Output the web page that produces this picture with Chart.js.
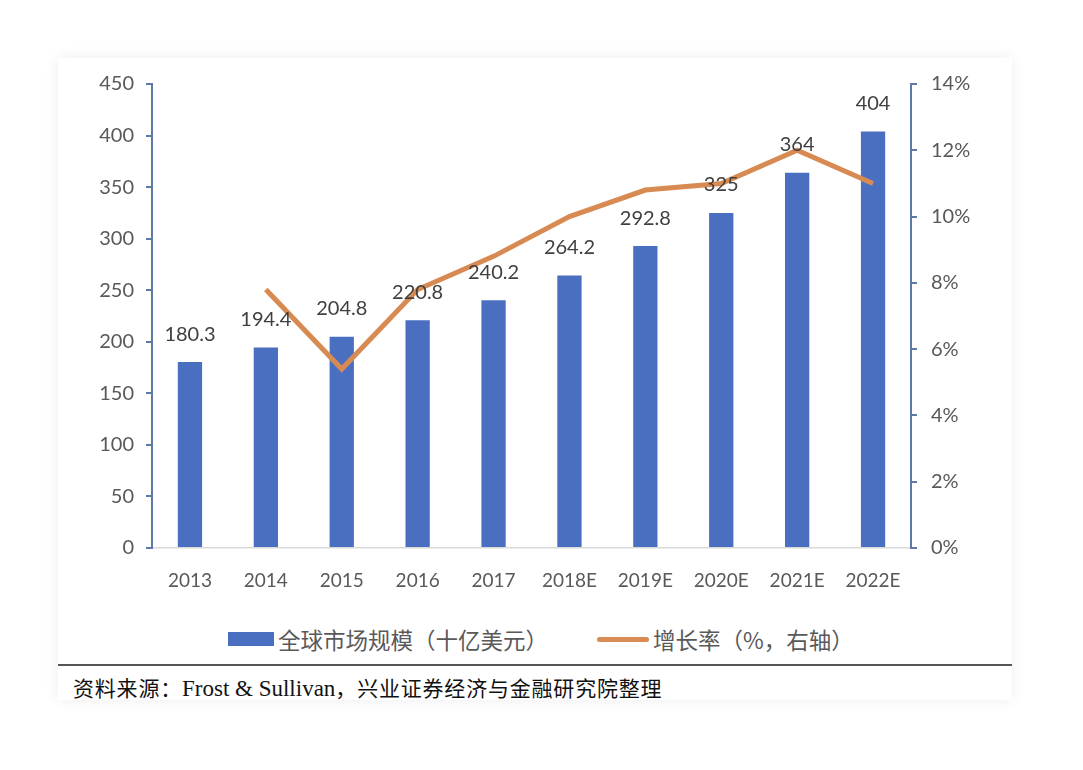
<!DOCTYPE html>
<html>
<head>
<meta charset="utf-8">
<script src="https://cdn.jsdelivr.net/npm/chart.js@4/dist/chart.umd.min.js"></script>
<style>
  body { margin: 0; background: #fff; width: 1083px; height: 770px; overflow: hidden; }
  #card { position: absolute; left: 58px; top: 58px; width: 954px; height: 642px; background: #fff;
          box-shadow: 0 0 14px rgba(0,0,0,0.07); }
  #wrap { position: absolute; left: 0; top: 0; width: 954px; height: 562px; }
  .leg { position: absolute; top: 565px; font-family: "Noto Sans CJK SC", sans-serif; font-size: 22.5px;
         color: #595959; display: flex; align-items: center; white-space: nowrap; }
  .box { width: 46px; height: 14px; background: #4a6fc1; margin-right: 4px; }
  .ln { width: 52px; height: 5px; background: #d98b54; border-radius: 3px; margin-right: 4px; }
  #sep { position: absolute; left: 0; top: 606px; width: 954px; height: 2px; background: #555; }
  #src { position: absolute; left: 15px; top: 614px; font-family: "Liberation Serif", "Noto Sans CJK SC", serif;
         font-size: 21px; color: #111; white-space: nowrap; letter-spacing: 0.8px; }
  #src span { font-size: 23px; letter-spacing: 0; }
</style>
</head>
<body>
<div id="card">
  <div id="wrap"><canvas id="chart"></canvas></div>
  <div class="leg" style="left:170px"><div class="box"></div>全球市场规模（十亿美元）</div>
  <div class="leg" style="left:539px"><div class="ln"></div>增长率（%，右轴）</div>
  <div id="sep"></div>
  <div id="src">资料来源：<span>Frost &amp; Sullivan</span>，兴业证券经济与金融研究院整理</div>
</div>
<script>
var years = ['2013', '2014', '2015', '2016', '2017', '2018E', '2019E', '2020E', '2021E', '2022E'];
var marketSize = [180.3, 194.4, 204.8, 220.8, 240.2, 264.2, 292.8, 325, 364, 404];
var growthRate = [null, 7.8, 5.4, 7.8, 8.8, 10.0, 10.8, 11.0, 12.0, 11.0];
var sizeLabels = ['180.3', '194.4', '204.8', '220.8', '240.2', '264.2', '292.8', '325', '364', '404'];

var yFont = { family: 'Lato, "Liberation Sans", sans-serif', size: 20 };
var xFont = { family: 'Lato, "Liberation Sans", sans-serif', size: 19 };

// value labels above the bars
var barLabels = {
  id: 'barLabels',
  afterDatasetsDraw(chart) {
    var ctx = chart.ctx;
    var meta = chart.getDatasetMeta(1);
    ctx.save();
    ctx.font = '20px Lato, "Liberation Sans", sans-serif';
    ctx.fillStyle = '#404040';
    ctx.textAlign = 'center';
    ctx.textBaseline = 'middle';
    meta.data.forEach(function (bar, i) {
      ctx.fillText(sizeLabels[i], bar.x, bar.y - 28);
    });
    ctx.restore();
  }
};

var ctx = document.getElementById('chart').getContext('2d');
var myChart = new Chart(ctx, {
  data: {
    labels: years,
    datasets: [{
      type: 'line',
      label: '增长率（%，右轴）',
      data: growthRate,
      yAxisID: 'y1',
      borderColor: '#d78a52',
      borderWidth: 5,
      pointRadius: 0,
      tension: 0,
      order: 0
    }, {
      type: 'bar',
      label: '全球市场规模（十亿美元）',
      data: marketSize,
      yAxisID: 'y',
      backgroundColor: '#4a6fc1',
      barPercentage: 0.4,
      categoryPercentage: 0.8,
      order: 1
    }]
  },
  options: {
    responsive: true,
    maintainAspectRatio: false,
    animation: false,
    layout: { padding: { top: 24, left: 0, right: 0, bottom: 0 } },
    plugins: { legend: { display: false }, tooltip: { enabled: false } },
    scales: {
      x: {
        grid: { display: false, drawTicks: false },
        border: { color: '#d9d9d9', width: 1.5 },
        ticks: { color: '#595959', font: xFont, padding: 21, maxRotation: 0 },
        afterFit(s) { s.height = 72; }
      },
      y: {
        position: 'left',
        min: 0, max: 450,
        ticks: { stepSize: 50, color: '#595959', font: yFont, padding: 12 },
        grid: { drawOnChartArea: false, tickLength: 6, color: '#5b7aa8', lineWidth: 2 },
        border: { color: '#5b7aa8', width: 2 },
        afterFit(s) { s.width = 94; }
      },
      y1: {
        position: 'right',
        min: 0, max: 14,
        ticks: { stepSize: 2, color: '#595959', font: yFont, padding: 14,
                 callback: function (v) { return v + '%'; } },
        grid: { drawOnChartArea: false, tickLength: 6, color: '#5b7aa8', lineWidth: 2 },
        border: { color: '#5b7aa8', width: 2 },
        afterFit(s) { s.width = 101; }
      }
    }
  },
  plugins: [barLabels]
});
</script>
</body>
</html>
